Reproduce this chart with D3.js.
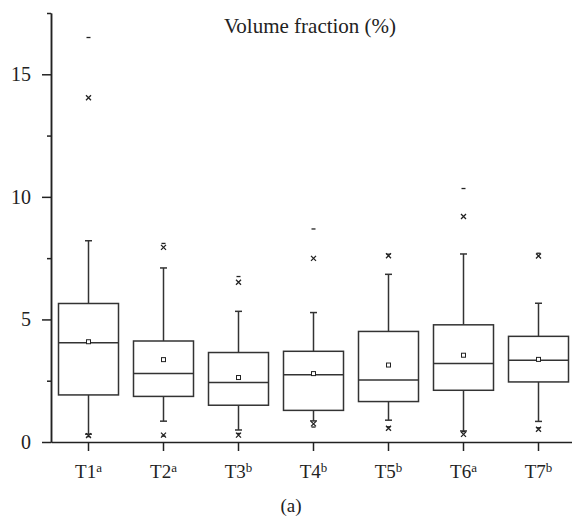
<!DOCTYPE html>
<html>
<head>
<meta charset="utf-8">
<script src="https://d3js.org/d3.v7.min.js"></script>
<style>
  body { margin: 0; background: #fff; }
  svg { font-family: "Liberation Serif", "Times New Roman", serif; }
  .axis path, .axis line { stroke: #222; stroke-width: 1.5px; }
  .axis text { font-size: 20px; fill: #222; font-family: "Liberation Serif", serif; }
</style>
</head>
<body>
<script>
// category names and their superscript letters
var groups = ["T1", "T2", "T3", "T4", "T5", "T6", "T7"];
var letters = ["a", "a", "b", "b", "b", "a", "b"];

// box statistics
var q1 = [1.92, 1.86, 1.50, 1.29, 1.65, 2.11, 2.45];
var median = [4.05, 2.79, 2.43, 2.74, 2.53, 3.20, 3.33];
var q3 = [5.65, 4.12, 3.65, 3.70, 4.51, 4.78, 4.31];
var mean = [4.09, 3.36, 2.63, 2.79, 3.14, 3.54, 3.37];
var whiskerLow = [0.32, 0.85, 0.49, 0.86, 0.89, 0.45, 0.84];
var whiskerHigh = [8.21, 7.10, 5.33, 5.28, 6.84, 7.67, 5.66];
var crossLow = [0.26, 0.28, 0.28, 0.74, 0.56, 0.31, 0.52];
var crossHigh = [14.04, 7.94, 6.52, 7.49, 7.60, 9.20, 7.59];
var dashLow = [0.22, 0.24, 0.35, 0.61, 0.62, 0.42, 0.58];
var dashHigh = [16.5, 8.10, 6.75, 8.69, 7.66, 10.34, 7.70];

var majorTicks = [0, 5, 10, 15];
var minorTicks = [2.5, 7.5, 12.5, 17.5];

var width = 572, height = 520;

var svg = d3.select("body").append("svg")
    .attr("width", width)
    .attr("height", height);

var x = d3.scaleBand()
    .domain(groups)
    .range([51, 576])
    .paddingInner(0.2)
    .paddingOuter(0.1);

var y = d3.scaleLinear()
    .domain([0, 17.5])
    .range([442, 13]);

var rows = groups.map(function (g, i) {
    return {
        name: g, letter: letters[i], q1: q1[i], med: median[i], q3: q3[i],
        mean: mean[i], wLo: whiskerLow[i], wHi: whiskerHigh[i],
        xLo: crossLow[i], xHi: crossHigh[i], dLo: dashLow[i], dHi: dashHigh[i]
    };
});

// axes
var xAxis = svg.append("g")
    .attr("class", "axis")
    .attr("transform", "translate(0,442)")
    .call(d3.axisBottom(x).tickSize(9).tickSizeOuter(0).tickFormat(""));

xAxis.selectAll(".tick").each(function (d, i) {
    var t = d3.select(this).append("text")
        .attr("y", 36)
        .attr("text-anchor", "middle")
        .style("font-size", "19px");
    t.append("tspan").text(d);
    t.append("tspan").text(letters[i])
        .style("font-size", "13px")
        .attr("dy", -6);
});

svg.append("g")
    .attr("class", "axis")
    .attr("transform", "translate(51,0)")
    .call(d3.axisLeft(y).tickValues(majorTicks).tickSize(9).tickSizeOuter(0).tickPadding(11));

svg.append("g")
    .attr("class", "axis")
    .attr("transform", "translate(51,0)")
    .call(d3.axisLeft(y).tickValues(minorTicks).tickSize(4).tickSizeOuter(0).tickFormat(""));

// boxes
var bw = x.bandwidth();
var g = svg.append("g").selectAll("g")
    .data(rows)
    .enter().append("g")
    .attr("transform", function (d) { return "translate(" + (x(d.name) + bw / 2) + ",0)"; });

var stroke = "#333";

g.append("line")
    .attr("x1", 0).attr("x2", 0)
    .attr("y1", function (d) { return y(d.q3); })
    .attr("y2", function (d) { return y(d.wHi); })
    .attr("stroke", stroke).attr("stroke-width", 1.5);

g.append("line")
    .attr("x1", 0).attr("x2", 0)
    .attr("y1", function (d) { return y(d.q1); })
    .attr("y2", function (d) { return y(d.wLo); })
    .attr("stroke", stroke).attr("stroke-width", 1.5);

// whisker caps
["wHi", "wLo"].forEach(function (k) {
    g.append("line")
        .attr("x1", -3.5).attr("x2", 3.5)
        .attr("y1", function (d) { return y(d[k]); })
        .attr("y2", function (d) { return y(d[k]); })
        .attr("stroke", stroke).attr("stroke-width", 1.5);
});

g.append("rect")
    .attr("x", -bw / 2)
    .attr("width", bw)
    .attr("y", function (d) { return y(d.q3); })
    .attr("height", function (d) { return y(d.q1) - y(d.q3); })
    .attr("fill", "#fff")
    .attr("stroke", stroke).attr("stroke-width", 1.5);

g.append("line")
    .attr("x1", -bw / 2).attr("x2", bw / 2)
    .attr("y1", function (d) { return y(d.med); })
    .attr("y2", function (d) { return y(d.med); })
    .attr("stroke", stroke).attr("stroke-width", 1.5);

g.append("rect")
    .attr("x", -2).attr("width", 4).attr("height", 4)
    .attr("y", function (d) { return y(d.mean) - 2; })
    .attr("fill", "#fff")
    .attr("stroke", "#222").attr("stroke-width", 1);

// 1% / 99% crosses
["xHi", "xLo"].forEach(function (k) {
    g.append("path")
        .attr("d", function (d) {
            var cy = y(d[k]), s = 2.5;
            return "M" + (-s) + "," + (cy - s) + "L" + s + "," + (cy + s) +
                   "M" + (-s) + "," + (cy + s) + "L" + s + "," + (cy - s);
        })
        .attr("stroke", "#222").attr("stroke-width", 1.3).attr("fill", "none");
});

// min / max dashes
["dHi", "dLo"].forEach(function (k) {
    g.append("line")
        .attr("x1", -2).attr("x2", 2)
        .attr("y1", function (d) { return y(d[k]); })
        .attr("y2", function (d) { return y(d[k]); })
        .attr("stroke", "#222").attr("stroke-width", 1.3);
});

// titles
svg.append("text")
    .attr("x", 310).attr("y", 33)
    .attr("text-anchor", "middle")
    .style("font-size", "21px").attr("fill", "#222")
    .text("Volume fraction (%)");

svg.append("text")
    .attr("x", 291).attr("y", 512)
    .attr("text-anchor", "middle")
    .style("font-size", "19px").attr("fill", "#222")
    .text("(a)");
</script>
</body>
</html>
